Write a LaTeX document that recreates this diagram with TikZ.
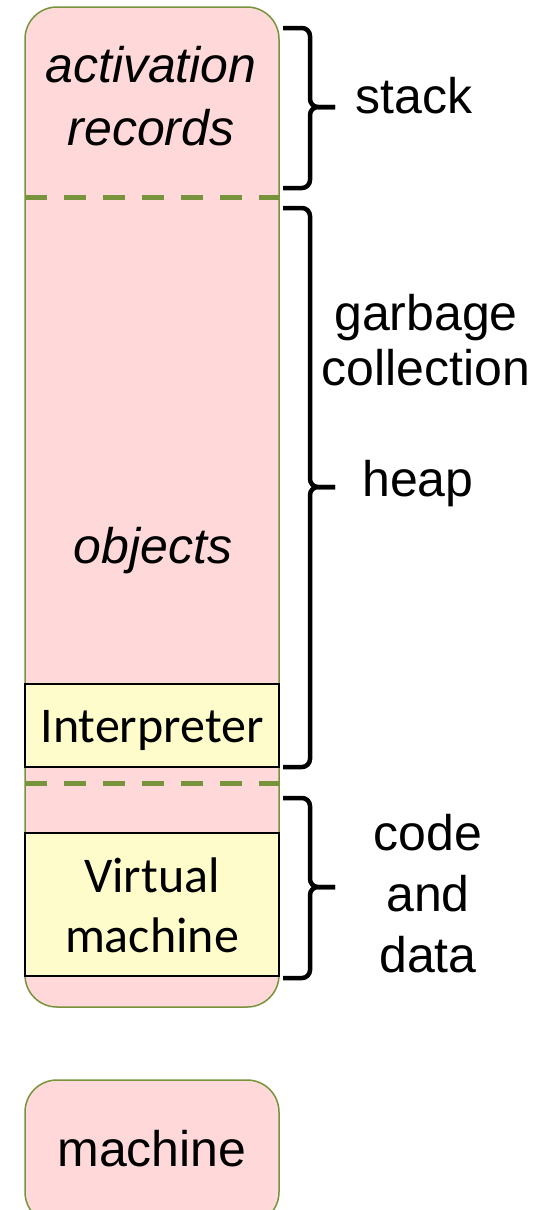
\documentclass[tikz,border=0pt]{standalone}
\usepackage{fontspec}
\setmainfont{Liberation Sans}
\newfontfamily\calibrifont{Carlito}

\definecolor{mempink}{RGB}{255,217,217}
\definecolor{memgreen}{RGB}{119,147,60}
\definecolor{vmyellow}{RGB}{255,252,204}

\tikzset{every picture/.style={line width=0.75pt}}
\tikzset{
  membox/.style={draw=memgreen, fill=mempink, line width=1.5, rounded corners=32},
  vmbox/.style={draw=black, fill=vmyellow, line width=1.2},
  splitline/.style={draw=memgreen, line width=5, dash pattern=on 22 off 17},
  sidebrace/.style={line width=4.5, rounded corners=8},
  bigtext/.style={inner sep=0pt, align=center, font=\fontsize{50}{61}\selectfont},
}

\begin{document}
\begin{tikzpicture}[x=1pt,y=1pt,yscale=-1,xscale=1]
\useasboundingbox (0,0) rectangle (556,1210);
\clip (0,0) rectangle (556,1210);

%Rounded Rect (memory)
\draw [membox] (25,7) rectangle (279,1007);
%Straight Lines (dashed splits)
\draw [splitline] (25,197) -- (279,197);
\draw [splitline] (25,783) -- (279,783);
%Rectangles (interpreter, virtual machine)
\draw [vmbox] (25,684) rectangle (279,767);
\draw [vmbox] (25,833) rectangle (279,976);
%Rounded Rect (machine)
\draw [membox] (25,1080) rectangle (279,1224);

%Braces
\draw [sidebrace] (283,28) -| (310,107) -- (335,107);
\draw [sidebrace] (283,188) -| (310,107) -- (335,107);
\draw [sidebrace] (283,208) -| (310,487) -- (335,487);
\draw [sidebrace] (283,767) -| (310,487) -- (335,487);
\draw [sidebrace] (283,798) -| (310,887) -- (335,887);
\draw [sidebrace] (283,978) -| (310,887) -- (335,887);

% Text Node
\draw (151,145) node [anchor=base][bigtext, font=\fontsize{50}{63}\selectfont\itshape] (records) {activation\\records};
% Text Node
\draw (153,563) node [anchor=base][bigtext, font=\fontsize{50}{61}\selectfont\itshape] (objects) {objects};
% Text Node
\draw (152,742) node [anchor=base][bigtext, font=\fontsize{50}{61}\selectfont\calibrifont] (interp) {Interpreter};
% Text Node
\draw (152,952) node [anchor=base][bigtext, font=\fontsize{50}{60}\selectfont\calibrifont] (vm) {Virtual\\machine};
% Text Node
\draw (152,1166) node [anchor=base][bigtext] (machine) {machine};
% Text Node
\draw (355,113) node [anchor=base west][bigtext] (stack) {stack};
% Text Node
\draw (426,385) node [anchor=base][bigtext, font=\fontsize{50}{55}\selectfont] (gc) {garbage\\collection};
% Text Node
\draw (362,496) node [anchor=base west][bigtext] (heap) {heap};
% Text Node
\draw (428,972) node [anchor=base][bigtext] (code) {code\\and\\data};

\end{tikzpicture}
\end{document}
